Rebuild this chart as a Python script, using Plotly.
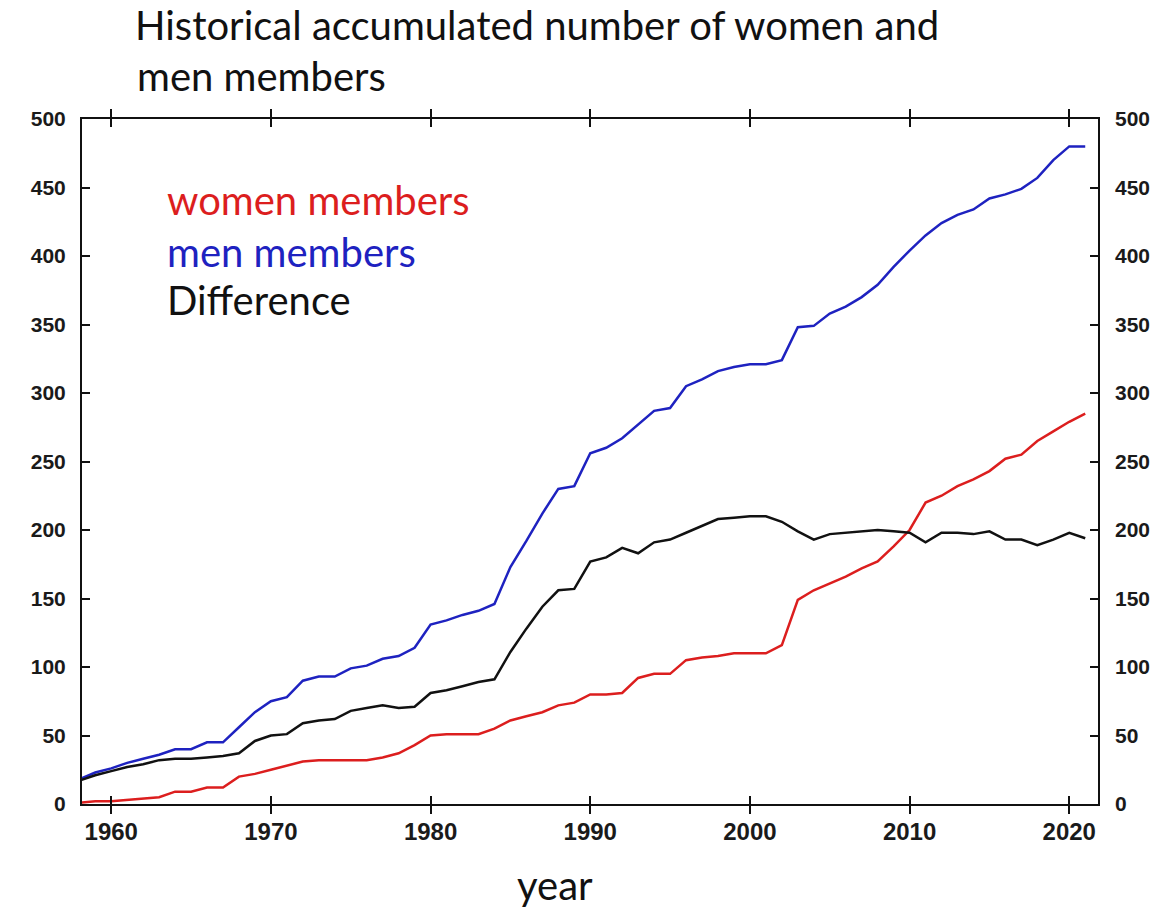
import plotly.graph_objects as go

# Annual accumulated membership counts, 1958-2021
years = list(range(1958, 2022))

men = [18, 23, 26, 30, 33, 36, 40, 40, 45, 45,
       56, 67, 75, 78, 90, 93, 93, 99, 101, 106,
       108, 114, 131, 134, 138, 141, 146, 173, 192, 212,
       230, 232, 256, 260, 267, 277, 287, 289, 305, 310,
       316, 319, 321, 321, 324, 348, 349, 358, 363, 370,
       379, 392, 404, 415, 424, 430, 434, 442, 445, 449,
       457, 470, 480, 480]

women = [1, 2, 2, 3, 4, 5, 9, 9, 12, 12,
         20, 22, 25, 28, 31, 32, 32, 32, 32, 34,
         37, 43, 50, 51, 51, 51, 55, 61, 64, 67,
         72, 74, 80, 80, 81, 92, 95, 95, 105, 107,
         108, 110, 110, 110, 116, 149, 156, 161, 166, 172,
         177, 188, 200, 220, 225, 232, 237, 243, 252, 255,
         265, 272, 279, 285]

difference = [17, 21, 24, 27, 29, 32, 33, 33, 34, 35,
              37, 46, 50, 51, 59, 61, 62, 68, 70, 72,
              70, 71, 81, 83, 86, 89, 91, 111, 128, 144,
              156, 157, 177, 180, 187, 183, 191, 193, 198, 203,
              208, 209, 210, 210, 206, 199, 193, 197, 198, 199,
              200, 199, 198, 191, 198, 198, 197, 199, 193, 193,
              189, 193, 198, 194]

title_lines = ["Historical accumulated number of women and", "men members"]
y_ticks = [0, 50, 100, 150, 200, 250, 300, 350, 400, 450, 500]
x_ticks = [1960, 1970, 1980, 1990, 2000, 2010, 2020]

RED = "#dc1e1e"
BLUE = "#1e22c0"
BLACK = "#111111"
TEXT_FONT = "Lato"
W, H = 1174, 909
MARGIN = dict(l=82, r=76, t=119, b=105)

fig = go.Figure()
fig.add_trace(go.Scatter(x=years, y=women, mode="lines", name="women members",
                         line=dict(color=RED, width=2.5)))
fig.add_trace(go.Scatter(x=years, y=men, mode="lines", name="men members",
                         line=dict(color=BLUE, width=2.5)))
fig.add_trace(go.Scatter(x=years, y=difference, mode="lines", name="Difference",
                         line=dict(color=BLACK, width=2.5), yaxis="y2"))

tick_font_y = dict(family="Liberation Sans", size=21, color="#1a1a1a", weight="bold")
tick_font_x = dict(family="Liberation Sans", size=24, color="#1a1a1a", weight="bold")

# Pixel helpers for placing text labels around the plot area
plot_left, plot_width = MARGIN["l"], W - MARGIN["l"] - MARGIN["r"]
plot_bottom, plot_height = H - MARGIN["b"], H - MARGIN["t"] - MARGIN["b"]


def px_to_paper(px, py):
    return (px - plot_left) / plot_width, (plot_bottom - py) / plot_height


annotations = []

# second title line
xp, yp = px_to_paper(135, 76)
annotations.append(dict(text=title_lines[1], x=xp, y=yp, xref="paper", yref="paper",
                        xanchor="left", yanchor="middle", showarrow=False,
                        font=dict(family=TEXT_FONT, size=40, color="#111111")))

for text, color, py in [("women members", RED, 200),
                        ("men members", BLUE, 252),
                        ("Difference", BLACK, 300)]:
    xp, yp = px_to_paper(165, py)
    annotations.append(dict(text=text, x=xp, y=yp, xref="paper", yref="paper",
                            xanchor="left", yanchor="middle", showarrow=False,
                            font=dict(family=TEXT_FONT, size=40, color=color)))

xp, yp = px_to_paper(555, 885)
annotations.append(dict(text="year", x=xp, y=yp, xref="paper", yref="paper",
                        xanchor="center", yanchor="middle", showarrow=False,
                        font=dict(family=TEXT_FONT, size=40, color="#111111")))

fig.update_layout(
    width=W, height=H,
    margin=MARGIN,
    paper_bgcolor="white", plot_bgcolor="white",
    showlegend=False,
    title=dict(
        text=title_lines[0],
        x=135 / W, xanchor="left", xref="container",
        y=1 - 26 / H, yanchor="middle", yref="container",
        font=dict(family=TEXT_FONT, size=40, color="#111111"),
    ),
    xaxis=dict(
        range=[1958.17, 2021.8], tickvals=x_ticks,
        ticks="inside", ticklen=8, tickwidth=1.5, tickcolor="#111",
        showline=True, linecolor="#111", linewidth=2, mirror="allticks",
        showgrid=False, zeroline=False, tickfont=tick_font_x,
        ticklabelstandoff=5,
    ),
    yaxis=dict(
        range=[0, 500], tickvals=y_ticks,
        ticks="inside", ticklen=8, tickwidth=1.5, tickcolor="#111",
        showline=True, linecolor="#111", linewidth=2, mirror=True,
        showgrid=False, zeroline=False, tickfont=tick_font_y,
        ticklabelstandoff=10,
    ),
    yaxis2=dict(
        overlaying="y", side="right", matches="y",
        range=[0, 500], tickvals=y_ticks,
        ticks="inside", ticklen=8, tickwidth=1.5, tickcolor="#111",
        showline=False, showgrid=False, zeroline=False,
        tickfont=tick_font_y, ticklabelstandoff=16,
    ),
    annotations=annotations,
)

fig.write_html("out.html")
